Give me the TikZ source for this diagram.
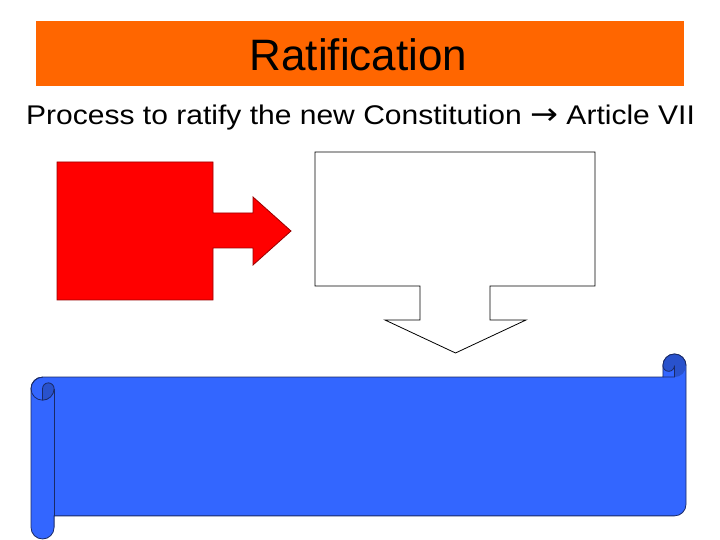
\documentclass[tikz,border=0pt]{standalone}
\usepackage{fontspec}
\setmainfont{Liberation Sans}
\newfontfamily\arrowfont{DejaVu Sans}
\definecolor{barorange}{HTML}{FF6600}
\definecolor{scrollblue}{HTML}{3366FF}
\definecolor{scrolldark}{HTML}{2952CC}
\definecolor{scrollline}{HTML}{1A2A66}
\definecolor{redline}{HTML}{990000}
\tikzset{
  titlebar/.style={fill=barorange, draw=none},
  titletext/.style={font=\fontsize{44}{50}\selectfont, inner sep=0pt},
  subtext/.style={font=\fontsize{27}{32}\selectfont, inner sep=0pt, xscale=1.112},
  redshape/.style={fill=red, draw=redline, line width=0.8pt, line join=miter},
  callout/.style={fill=white, draw=black, line width=0.8pt},
  scrollbody/.style={fill=scrollblue, draw=scrollline, line width=0.8pt},
  scrollcurl/.style={fill=scrolldark, draw=none},
  scrolledge/.style={draw=scrollline, line width=0.8pt}
}
\begin{document}
\begin{tikzpicture}[x=1pt,y=1pt]
\useasboundingbox (0,0) rectangle (720,540);
% title bar
\fill[titlebar] (36,454) rectangle (684,519);
\node[titletext, anchor=base] (title) at (358.5,469) {Ratification};
\node[subtext, anchor=base west] (sub) at (26,415.7) {Process to ratify the new Constitution {\arrowfont\fontsize{30}{32}\selectfont →} Article VII};
% red arrow callout
\draw[redshape] (57,378) -- (213,378) -- (213,327) -- (253,327) -- (253,343)
  -- (291,309) -- (253,275) -- (253,292) -- (213,292) -- (213,240) -- (57,240) -- cycle;
% white down arrow callout
\draw[callout] (315,388) -- (595,388) -- (595,254) -- (490,254) -- (490,220)
  -- (526,220) -- (455.5,187) -- (385,220) -- (420,220) -- (420,254) -- (315,254) -- cycle;
% blue horizontal scroll
\path[scrollbody] (31,151.35) arc (180:90:11.55) -- (662.9,162.9) -- (662.9,174.45)
  arc (180:0:11.55) -- (686,35.65) arc (0:-90:11.55) -- (54.1,24.1) -- (54.1,12.55)
  arc (0:-180:11.55) -- cycle;
\fill[scrollcurl] (674.45,162.9) arc (-90:180:11.55) arc (180:360:5.775) -- cycle;
\fill[scrollcurl] (42.55,139.8) arc (-90:0:11.55) arc (0:180:5.775) -- cycle;
\draw[scrolledge] (662.9,162.9) -- (674.45,162.9) -- (674.45,174.45) arc (0:-180:5.775);
\draw[scrolledge] (662.9,174.45) arc (180:0:11.55);
\draw[scrolledge] (31,151.35) arc (180:360:11.55) arc (0:180:5.775) -- (42.55,139.8);
\draw[scrolledge] (54.1,151.35) -- (54.1,24.1);
\draw[scrolledge] (31,151.35) arc (180:90:11.55);
\end{tikzpicture}
\end{document}
